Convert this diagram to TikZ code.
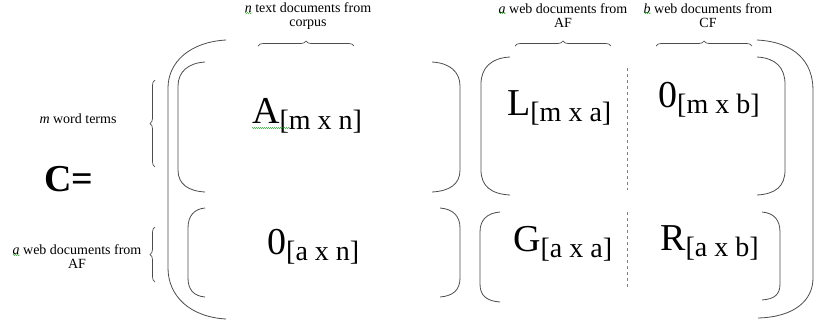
\documentclass[tikz,border=0pt]{standalone}
\usepackage{fontspec}
\setmainfont{Liberation Serif}
\usepackage{tikz}
\usetikzlibrary{decorations.pathreplacing,decorations.pathmorphing}
\newcommand{\blockentry}[2]{{\fontsize{38}{38}\selectfont #1}{\fontsize{28}{28}\selectfont\raisebox{-6pt}{[#2]}}}

\begin{document}
\begin{tikzpicture}[
  x=1pt, y=-1pt,
  headtext/.style={font=\fontsize{14}{14}\selectfont, align=center, inner sep=0pt},
  entry/.style={anchor=base west, inner sep=0pt},
  paren/.style={draw=black!70, line width=0.8pt},
  sepline/.style={draw=black!50, dashed, line width=0.7pt},
  curly/.style={draw=black!70, line width=0.7pt, decorate, decoration={brace, amplitude=5pt}},
  squiggle/.style={draw=green!55!black, line width=0.4pt, decorate,
                   decoration={snake, amplitude=0.5pt, segment length=2pt}}
]
  \useasboundingbox (0,0) rectangle (814,325);

  \node[headtext] (ncols) at (308,16) {\textit{n} text documents from\\corpus};
  \node[headtext] (acols) at (563,16) {\textit{a} web documents from\\AF};
  \node[headtext] (bcols) at (708,16) {\textit{b} web documents from\\CF};
  \node[headtext] (mrows) at (78,119) {\textit{m} word terms};
  \node[headtext] (arows) at (77,257) {\textit{a} web documents from\\AF};
  \node[inner sep=0pt, font=\fontsize{38}{38}\selectfont\bfseries] (cname) at (69,179) {C=};

  \draw[curly] (258,46) -- (354,46);
  \draw[curly] (515,46) -- (611,46);
  \draw[curly] (656,46) -- (752,46);
  \draw[curly] (155,167) -- (155,80);
  \draw[curly] (155,282) -- (155,227);

  \draw[paren] (226,40) .. controls (190,42) and (168,62) .. (168,88) -- (168,268)
    .. controls (168,296) and (190,317) .. (226,319);
  \draw[paren] (757,40) .. controls (795,42) and (813,62) .. (813,90) -- (813,278)
    .. controls (813,300) and (795,317) .. (758,318);

  \draw[paren] (205,62) .. controls (188,63) and (178,72) .. (178,86) -- (178,170)
    .. controls (178,184) and (188,191) .. (205,192);
  \draw[paren] (432,62) .. controls (450,63) and (460,72) .. (460,86) -- (460,170)
    .. controls (460,184) and (450,191) .. (432,192);
  \draw[paren] (205,208) .. controls (194,209) and (188,216) .. (188,228) -- (188,278)
    .. controls (188,290) and (194,296) .. (205,297);
  \draw[paren] (440,208) .. controls (453,209) and (460,216) .. (460,228) -- (460,278)
    .. controls (460,290) and (453,296) .. (440,297);

  \draw[paren] (510,57) .. controls (491,58) and (481,68) .. (481,84) -- (481,170)
    .. controls (481,186) and (491,194) .. (510,195);
  \draw[paren] (757,57) .. controls (776,58) and (785,68) .. (785,84) -- (785,170)
    .. controls (785,186) and (776,194) .. (757,195);
  \draw[paren] (500,212) .. controls (487,213) and (480,220) .. (480,232) -- (480,284)
    .. controls (480,296) and (487,301) .. (500,302);
  \draw[paren] (762,212) .. controls (774,213) and (780,220) .. (780,232) -- (780,284)
    .. controls (780,295) and (774,299) .. (762,300);

  \draw[sepline] (627,68) -- (627,190);
  \draw[sepline] (627,212) -- (627,287);

  \node[entry] (amat) at (252,123) {\blockentry{A}{m x n}};
  \node[entry] (zan) at (267,254) {\blockentry{0}{a x n}};
  \node[entry] (lmat) at (507,115) {\blockentry{L}{m x a}};
  \node[entry] (zmb) at (658,107) {\blockentry{0}{m x b}};
  \node[entry] (gmat) at (513,251) {\blockentry{G}{a x a}};
  \node[entry] (rmat) at (660,250) {\blockentry{R}{a x b}};

  \draw[squiggle] (245,13) -- (252,13);
  \draw[squiggle] (499,13) -- (506,13);
  \draw[squiggle] (644,13) -- (651,13);
  \draw[squiggle] (13,255) -- (20,255);
  \draw[squiggle] (252,128) -- (290,128);
\end{tikzpicture}
\end{document}
